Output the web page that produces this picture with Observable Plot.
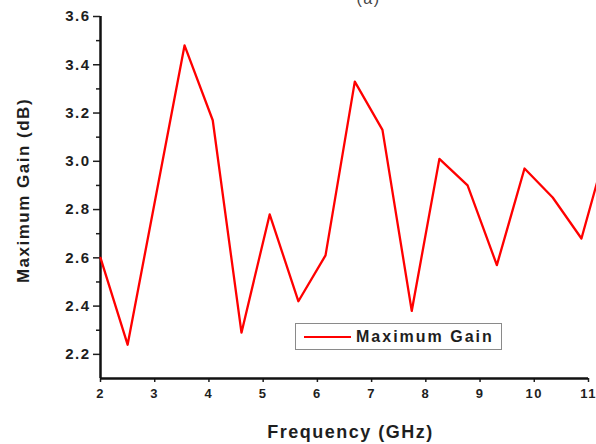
<!DOCTYPE html>
<html>
<head>
<meta charset="utf-8">
<script src="https://cdn.jsdelivr.net/npm/d3@7"></script>
<script src="https://cdn.jsdelivr.net/npm/@observablehq/plot@0.6"></script>
<style>
  html, body { margin: 0; padding: 0; background: #fff; overflow: hidden; }
  #wrap { position: relative; width: 596px; height: 444px; overflow: hidden; }
  #wrap svg text { letter-spacing: 1.5px; }
  #wrap svg text.title { letter-spacing: 2px; }
  .legend {
    position: absolute; left: 295px; top: 323px; width: 207px; height: 27px;
    border: 1px solid #8a8a8a; background: #fff; box-sizing: border-box;
    font: bold 16px "Liberation Sans", Arial, sans-serif; color: #1e1e1e; letter-spacing: 2px;
  }
  .legend .swatch { position: absolute; left: 8px; top: 12px; width: 47px; height: 0; border-top: 2px solid #ff0000; }
  .legend .name { position: absolute; left: 60px; top: 4px; white-space: nowrap; }
</style>
</head>
<body>
<div id="wrap"></div>
<script>
// Maximum gain across the operating band
const freq = [2.0, 2.50, 3.55, 4.07, 4.60, 5.12, 5.65, 6.15, 6.69, 7.20, 7.74, 8.25, 8.77, 9.31, 9.82, 10.34, 10.87, 11.39];
const gain = [2.60, 2.24, 3.48, 3.17, 2.29, 2.78, 2.42, 2.61, 3.33, 3.13, 2.38, 3.01, 2.90, 2.57, 2.97, 2.85, 2.68, 3.10];

const xTicks = [2, 3, 4, 5, 6, 7, 8, 9, 10, 11];
const yTicks = [2.2, 2.4, 2.6, 2.8, 3.0, 3.2, 3.4, 3.6];
const yMinorTicks = [2.3, 2.5, 2.7, 2.9, 3.1, 3.3, 3.5];

const seriesName = "Maximum Gain";
const xTitle = "Frequency (GHz)";
const yTitle = "Maximum Gain (dB)";
const panelTag = "(a)";

const rows = freq.map((f, i) => ({f, g: gain[i]}));

const font = "'Liberation Sans', Arial, sans-serif";
const ink = "#1e1e1e";

const chart = Plot.plot({
  width: 596,
  height: 444,
  marginLeft: 100,
  marginRight: 8,
  marginTop: 16,
  marginBottom: 66,
  style: {fontFamily: font, color: ink, background: "#fff"},
  x: {domain: [2, 11]},
  y: {domain: [2.1, 3.6]},
  marks: [
    // y axis: labelled major ticks and short minor ticks
    Plot.axisY({ticks: yTicks, tickSize: 7, tickPadding: 3, tickFormat: d => d.toFixed(1),
      fontSize: 15, fontWeight: "bold", stroke: ink, strokeWidth: 1.5, label: null}),
    Plot.axisY({ticks: yMinorTicks, tickSize: 4, tickFormat: () => "", stroke: ink, strokeWidth: 1.5, label: null}),
    // x axis
    Plot.axisX({ticks: xTicks, tickSize: 4, tickPadding: 6, tickFormat: d => String(d),
      fontSize: 13, fontWeight: "bold", stroke: ink, strokeWidth: 1.5, label: null}),
    // axis lines
    Plot.ruleX([2], {y1: 2.1, y2: 3.6, stroke: "#111", strokeWidth: 2.5}),
    Plot.ruleY([2.1], {x1: 2, x2: 11, stroke: "#111", strokeWidth: 2.5}),
    // the gain curve
    Plot.line(rows, {x: "f", y: "g", stroke: "#ff0000", strokeWidth: 2.3}),
    // titles
    Plot.text([xTitle], {frameAnchor: "bottom", dy: 59, dx: 6, fontSize: 18, fontWeight: "bold", fill: ink, className: "title"}),
    Plot.text([yTitle], {frameAnchor: "left", textAnchor: "middle", dx: -77, dy: -7, rotate: -90,
      fontSize: 17, fontWeight: "bold", fill: ink, className: "title"}),
    Plot.text([panelTag], {frameAnchor: "top", dy: -24, dx: 24, fontSize: 16, fill: "#444"})
  ]
});

const wrap = document.getElementById("wrap");
wrap.appendChild(chart);

const legend = document.createElement("div");
legend.className = "legend";
legend.innerHTML = '<span class="swatch"></span><span class="name"></span>';
legend.querySelector(".name").textContent = seriesName;
wrap.appendChild(legend);
</script>
</body>
</html>
